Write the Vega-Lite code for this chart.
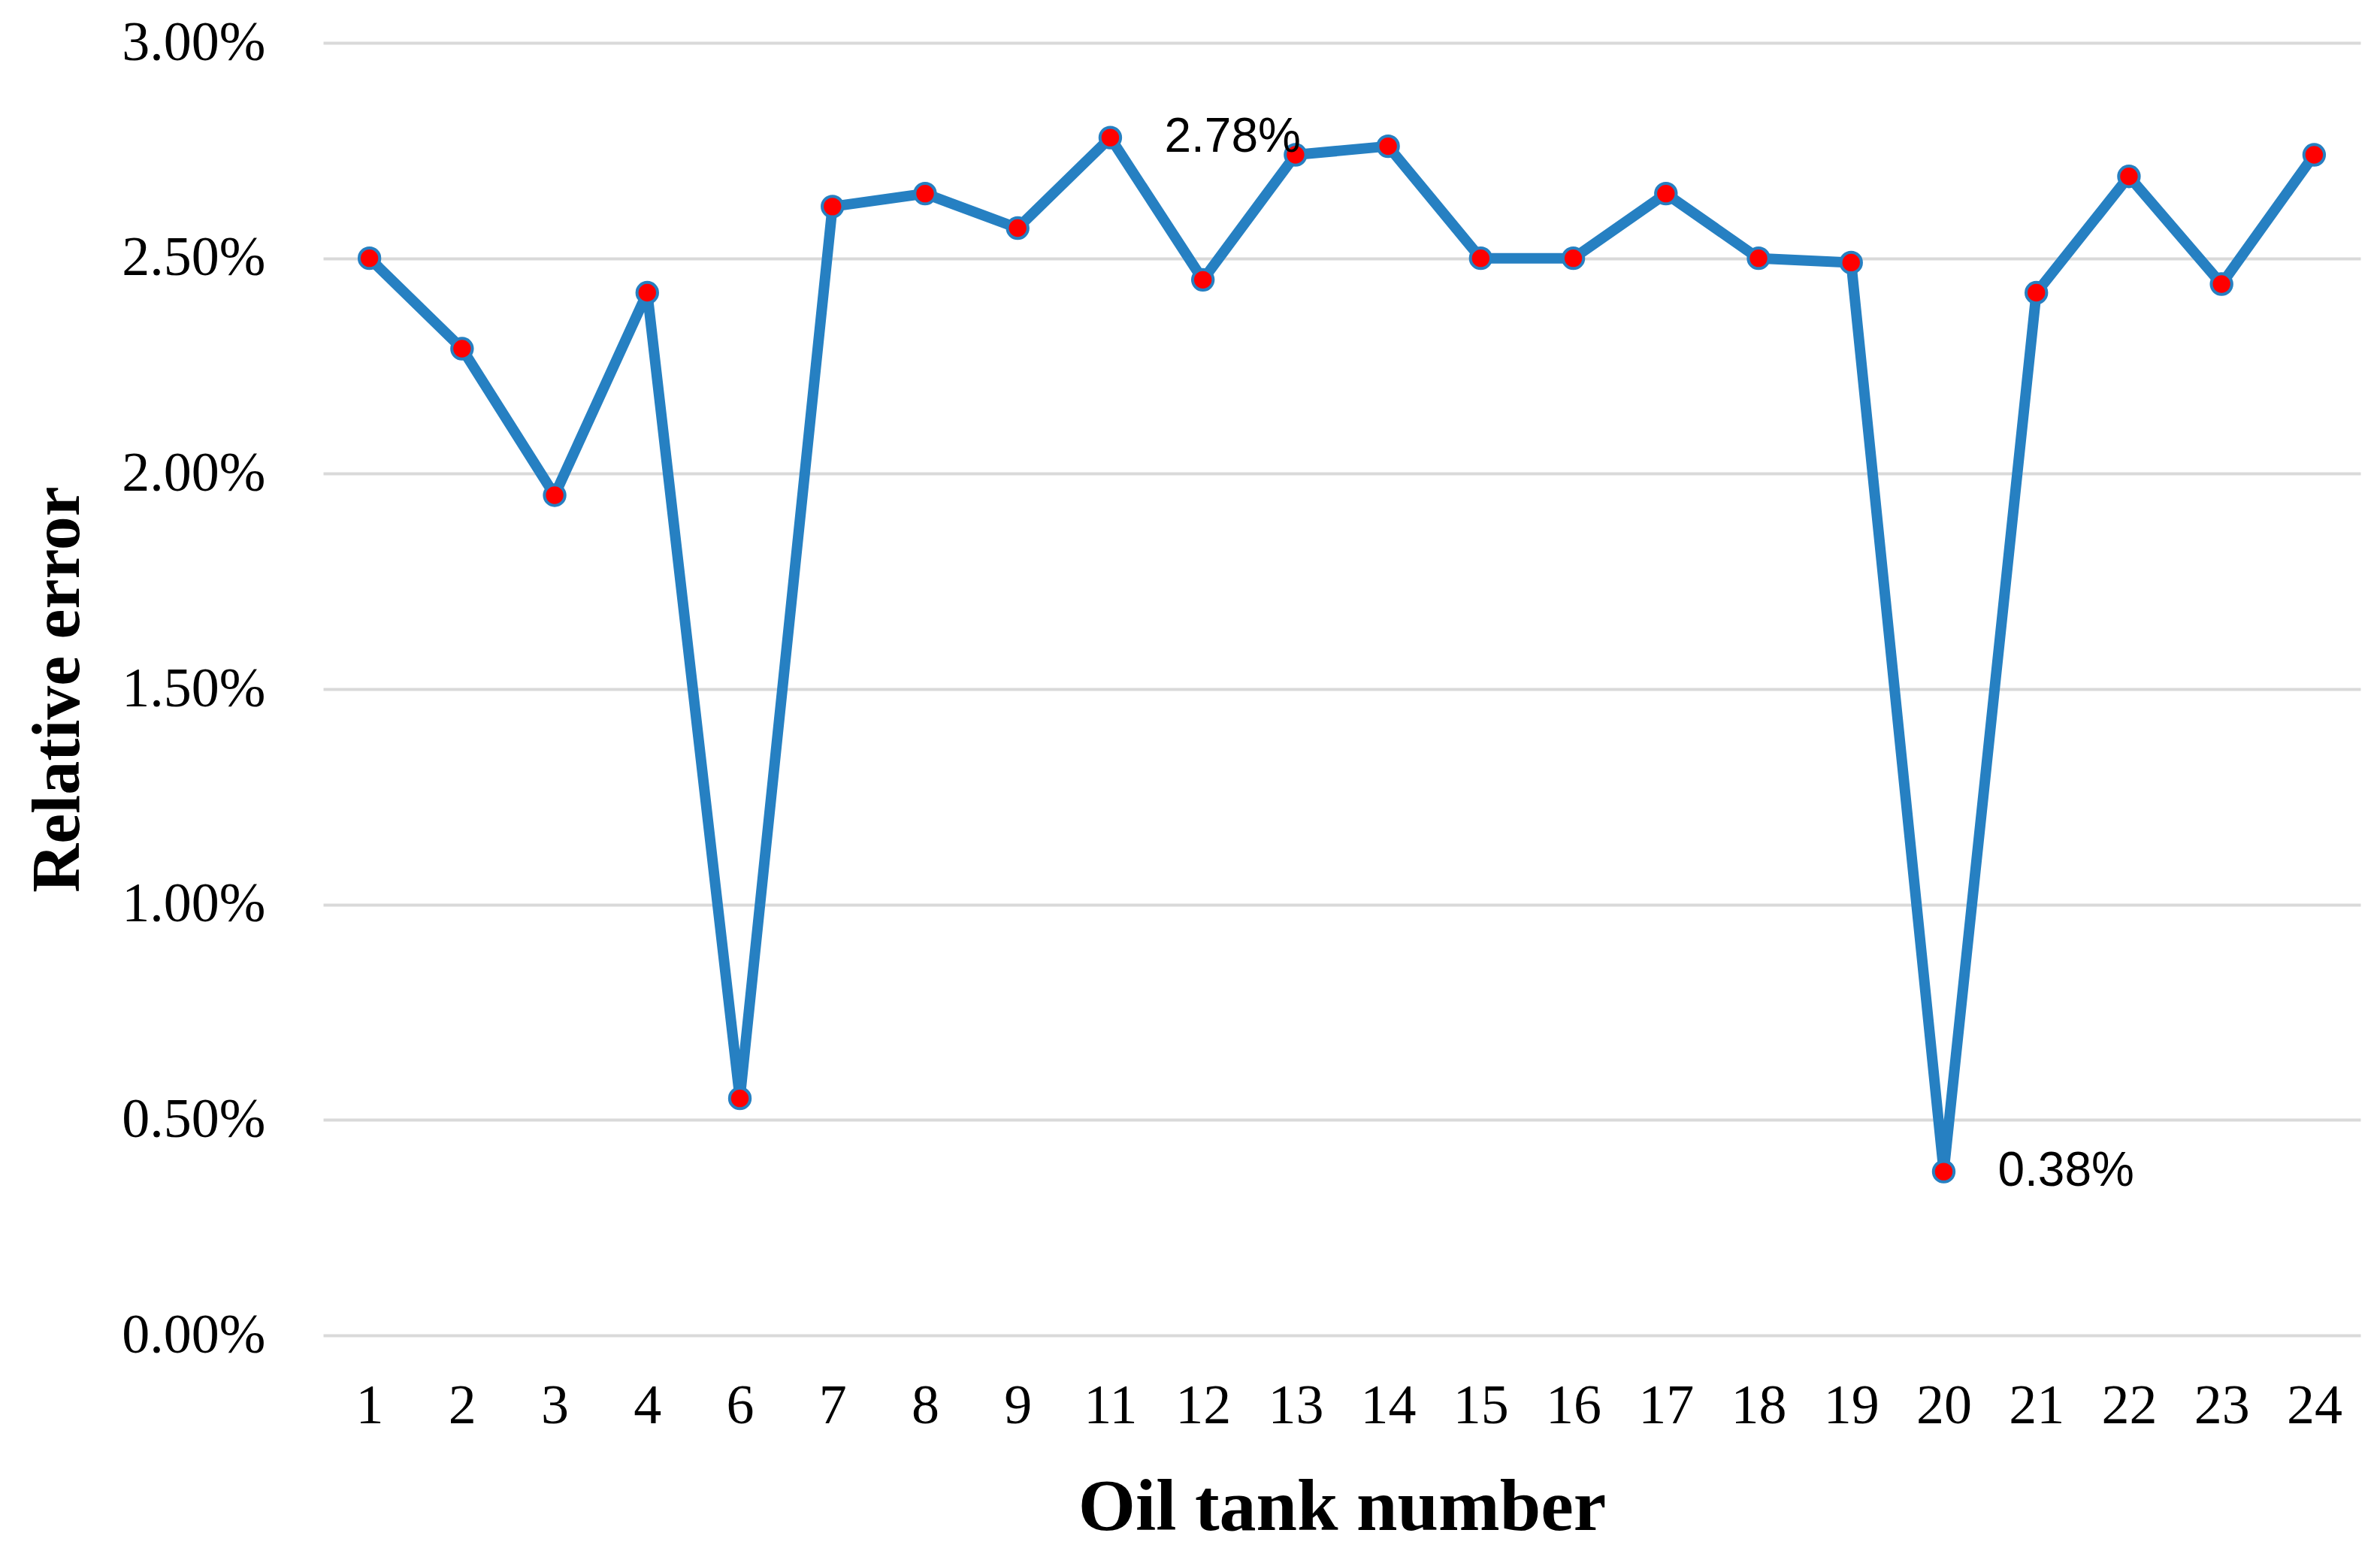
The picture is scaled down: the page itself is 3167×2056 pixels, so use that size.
{
  "$schema": "https://vega.github.io/schema/vega-lite/v6.json",
  "autosize": {"type": "none"},
  "padding": {"left": 430, "top": 57, "right": 26, "bottom": 279},
  "width": 2711,
  "height": 1720,
  "background": "white",
  "config": {"view": {"stroke": null}},
  "data": {
    "values": [
      {"tank": "1", "error": 0.0250},
      {"tank": "2", "error": 0.0229},
      {"tank": "3", "error": 0.0195},
      {"tank": "4", "error": 0.0242},
      {"tank": "6", "error": 0.0055},
      {"tank": "7", "error": 0.0262},
      {"tank": "8", "error": 0.0265},
      {"tank": "9", "error": 0.0257},
      {"tank": "11", "error": 0.0278, "label": "2.78%"},
      {"tank": "12", "error": 0.0245},
      {"tank": "13", "error": 0.0274},
      {"tank": "14", "error": 0.0276},
      {"tank": "15", "error": 0.0250},
      {"tank": "16", "error": 0.0250},
      {"tank": "17", "error": 0.0265},
      {"tank": "18", "error": 0.0250},
      {"tank": "19", "error": 0.0249},
      {"tank": "20", "error": 0.0038, "label": "0.38%"},
      {"tank": "21", "error": 0.0242},
      {"tank": "22", "error": 0.0269},
      {"tank": "23", "error": 0.0244},
      {"tank": "24", "error": 0.0274}
    ]
  },
  "encoding": {
    "x": {
      "field": "tank",
      "type": "nominal",
      "sort": null,
      "scale": {"type": "point", "padding": 0.5},
      "axis": {
        "title": "Oil tank number",
        "titleFont": "Liberation Serif",
        "titleFontSize": 98,
        "titleFontWeight": "bold",
        "titleColor": "black",
        "titleY": 229,
        "titleBaseline": "middle",
        "labelFont": "Liberation Serif",
        "labelFontSize": 74,
        "labelColor": "black",
        "labelAngle": 0,
        "labelPadding": 94,
        "labelBaseline": "middle",
        "labelLimit": 0,
        "ticks": false,
        "domain": false,
        "grid": false
      }
    },
    "y": {
      "field": "error",
      "type": "quantitative",
      "scale": {"domain": [0, 0.03]},
      "axis": {
        "title": "Relative error",
        "titleFont": "Liberation Serif",
        "titleFontSize": 90,
        "titleFontWeight": "bold",
        "titleColor": "black",
        "titleX": -353,
        "titleY": 860,
        "titleBaseline": "middle",
        "titleAngle": -90,
        "format": ".2%",
        "values": [0, 0.005, 0.01, 0.015, 0.02, 0.025, 0.03],
        "labelFont": "Liberation Serif",
        "labelFontSize": 74,
        "labelColor": "black",
        "labelPadding": 77,
        "labelLimit": 0,
        "ticks": false,
        "domain": false,
        "grid": true,
        "gridColor": "#d9d9d9",
        "gridWidth": 4
      }
    }
  },
  "layer": [
    {
      "mark": {"type": "line", "color": "#2680C2", "strokeWidth": 14, "strokeJoin": "round"}
    },
    {
      "mark": {"type": "point", "filled": true, "fill": "#FF0000", "stroke": "#2680C2", "strokeWidth": 4, "size": 750, "opacity": 1, "shape": "circle"}
    },
    {
      "transform": [{"filter": "isValid(datum.label)"}],
      "mark": {"type": "text", "align": "left", "baseline": "middle", "dx": 72, "font": "Liberation Sans", "fontSize": 64, "color": "black"},
      "encoding": {"text": {"field": "label"}}
    }
  ]
}
